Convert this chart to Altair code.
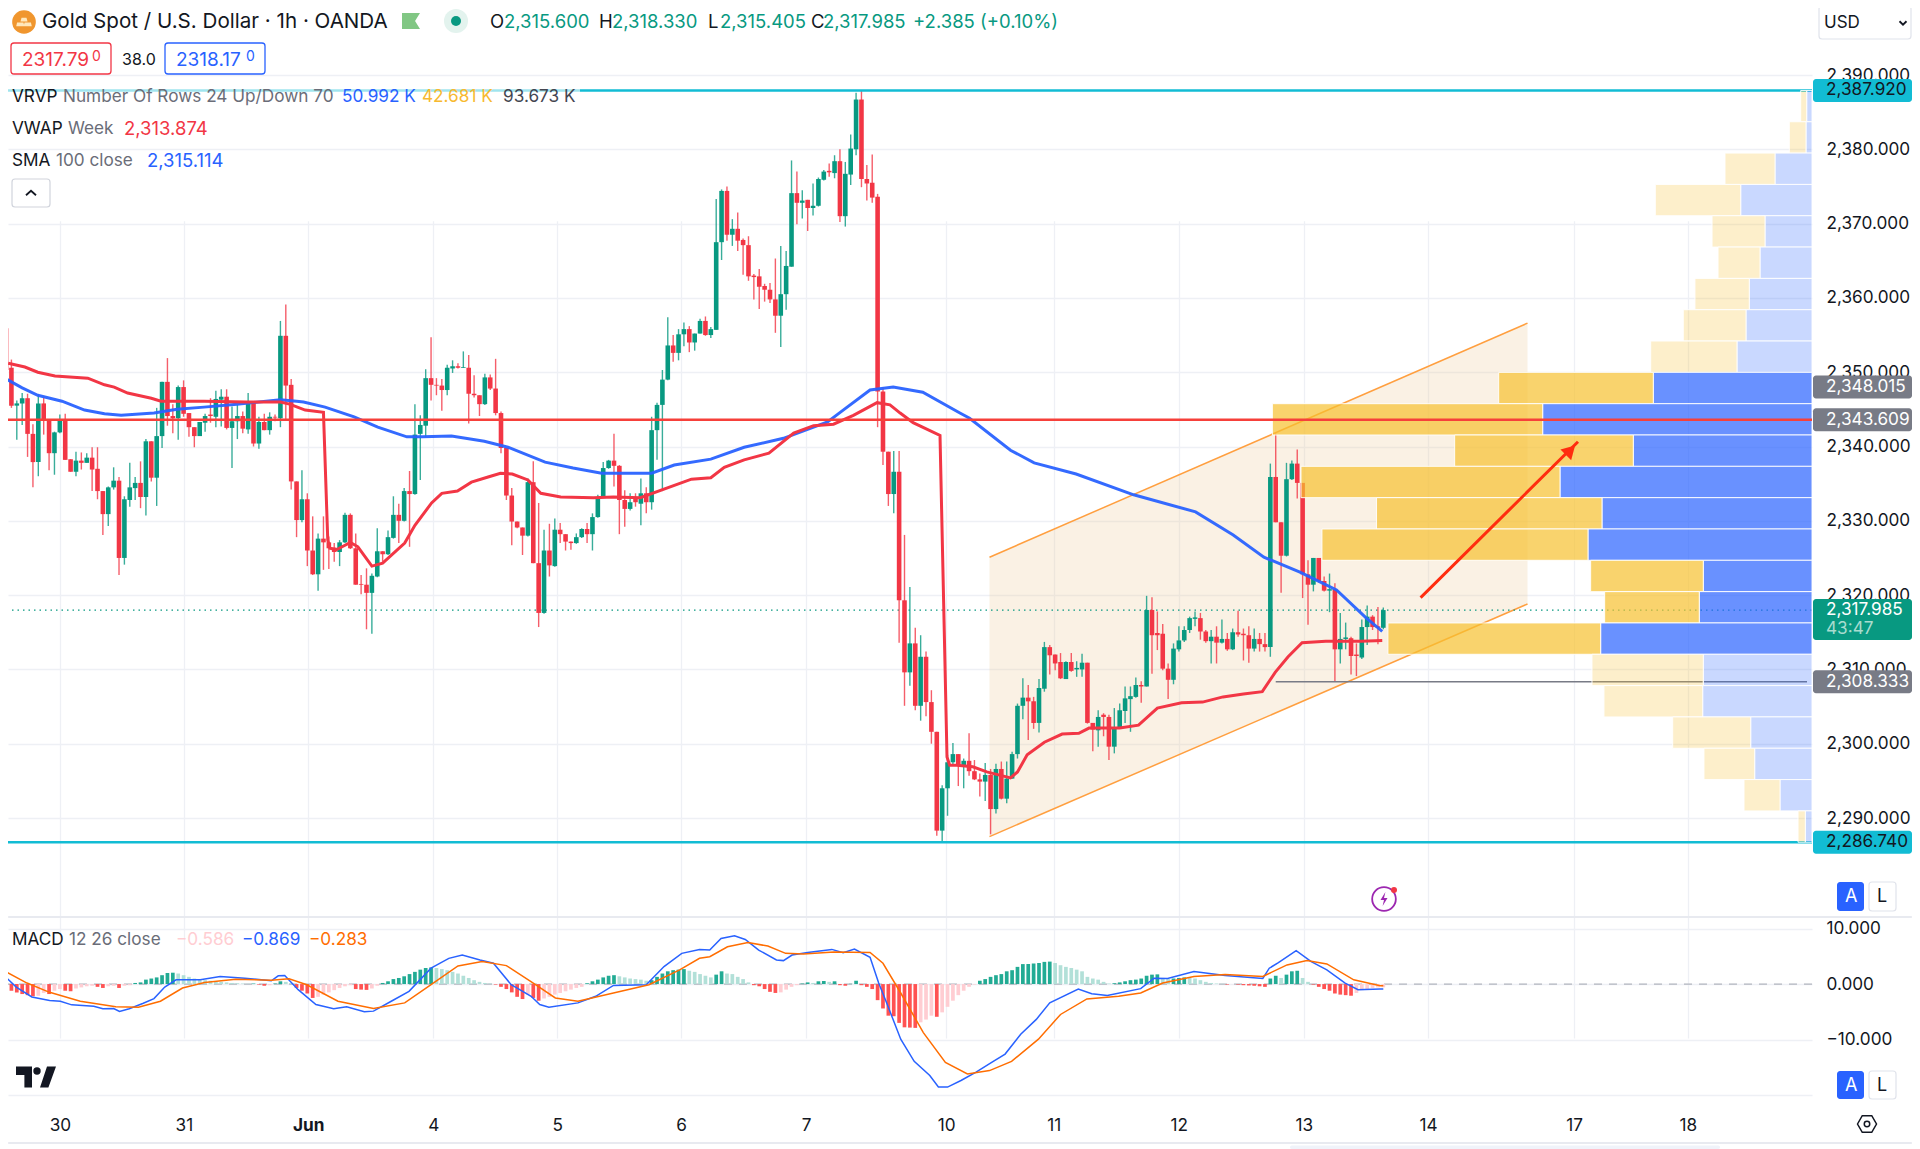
import altair as alt
import pandas as pd

# ---------- candles (1h bars) ----------
OPEN = [2355.9,2350.6,2345.5,2345.8,2346.5,2341.7,2337.9,2345.8,2343.6,2339.1,
2341.9,2343.6,2338.3,2336.6,2338.1,2337.8,2338.5,2337.0,2334.0,2330.9,
2334.5,2335.4,2325.0,2332.8,2334.4,2335.1,2333.2,2340.7,2335.8,2341.4,
2348.7,2344.1,2343.8,2348.0,2344.5,2342.6,2341.4,2343.2,2344.3,2344.0,
2346.3,2346.7,2342.5,2343.4,2344.1,2342.3,2345.9,2340.4,2343.3,2342.2,
2344.0,2343.8,2354.9,2348.3,2335.3,2330.1,2332.9,2326.0,2322.8,2327.6,
2327.1,2326.4,2325.8,2327.1,2330.8,2326.3,2321.5,2321.4,2320.3,2322.5,
2325.9,2325.5,2327.7,2330.8,2330.0,2334.0,2333.6,2341.7,2342.8,2349.2,
2348.3,2348.2,2347.6,2350.5,2350.8,2350.6,2350.6,2347.1,2346.9,2345.7,
2349.3,2347.8,2344.5,2339.8,2333.4,2329.9,2329.1,2328.0,2335.2,2324.3,
2317.6,2326.0,2323.9,2328.8,2328.2,2327.2,2327.0,2327.8,2328.9,2328.2,
2330.5,2333.2,2337.1,2338.1,2337.4,2332.8,2331.6,2333.0,2332.3,2333.7,
2332.5,2342.2,2345.6,2349.0,2353.6,2352.6,2355.1,2355.8,2354.0,2355.2,
2356.9,2355.0,2355.7,2367.5,2374.4,2368.5,2369.3,2367.8,2367.1,2363.0,
2362.9,2361.6,2361.1,2359.8,2357.6,2360.5,2364.2,2374.1,2372.8,2373.2,
2372.1,2372.4,2375.9,2377.1,2376.8,2378.4,2371.0,2376.6,2380.0,2386.7,
2376.0,2375.5,2373.6,2347.4,2339.3,2333.6,2336.6,2319.3,2309.6,2313.5,
2305.1,2311.7,2305.6,2301.6,2288.3,2294.0,2297.5,2298.6,2297.1,2297.7,
2296.3,2295.2,2294.9,2295.8,2291.2,2296.6,2292.6,2295.3,2298.6,2305.1,
2306.2,2305.7,2302.8,2307.4,2313.0,2312.0,2311.0,2308.7,2311.0,2310.0,
2310.0,2310.9,2302.8,2301.8,2303.9,2303.6,2299.6,2302.1,2304.4,2306.0,
2306.3,2307.9,2307.7,2318.0,2314.9,2314.8,2310.1,2308.6,2312.7,2313.9,
2315.3,2316.8,2316.9,2315.1,2313.8,2314.4,2313.6,2314.1,2312.7,2315.0,
2314.8,2314.6,2312.8,2314.1,2313.4,2313.0,2335.9,2329.8,2325.3,2335.6,
2337.7,2335.1,2322.8,2321.4,2325.0,2321.9,2320.6,2320.8,2312.7,2314.1,
2314.2,2312.0,2311.6,2315.7,2317.1,2315.8,2315.6]
CLOSE = [2350.3,2345.5,2345.8,2346.5,2341.7,2337.9,2345.8,2343.6,2339.1,2341.9,
2343.5,2338.2,2336.6,2338.1,2337.8,2338.5,2336.9,2334.0,2330.9,2334.5,
2335.4,2325.0,2332.9,2334.5,2335.1,2333.2,2340.7,2335.8,2341.4,2348.7,
2344.1,2343.8,2348.0,2344.4,2342.6,2341.4,2343.3,2344.1,2344.1,2346.4,
2346.7,2342.5,2343.4,2344.1,2342.4,2345.8,2340.4,2343.3,2342.2,2344.0,
2343.9,2354.9,2348.2,2335.3,2330.1,2332.9,2326.0,2322.8,2327.6,2327.1,
2326.3,2325.8,2327.1,2330.8,2326.3,2321.4,2321.4,2320.3,2322.6,2325.9,
2325.5,2327.8,2330.8,2330.0,2334.0,2333.6,2341.6,2342.9,2349.2,2348.3,
2348.2,2347.6,2350.6,2350.8,2350.6,2350.7,2347.1,2346.9,2345.7,2349.3,
2347.8,2344.5,2339.8,2333.4,2329.9,2329.1,2328.0,2335.2,2324.3,2317.6,
2326.0,2324.0,2328.8,2328.2,2327.2,2327.0,2327.8,2328.9,2328.2,2330.5,
2333.2,2337.1,2338.1,2337.4,2332.8,2331.6,2332.5,2332.5,2333.7,2332.5,
2342.2,2345.6,2349.0,2353.6,2352.6,2355.1,2355.8,2354.0,2355.2,2356.9,
2355.0,2355.8,2367.5,2374.4,2368.5,2369.3,2367.7,2367.1,2362.9,2362.8,
2361.5,2361.1,2359.8,2357.6,2360.5,2364.3,2374.1,2372.8,2373.1,2372.1,
2372.4,2376.0,2377.0,2376.9,2378.4,2371.0,2376.7,2380.1,2386.7,2376.0,
2375.4,2373.5,2347.4,2339.3,2333.6,2336.6,2319.3,2309.6,2313.5,2305.1,
2311.7,2305.6,2301.6,2288.3,2294.0,2297.5,2298.6,2297.1,2297.7,2296.3,
2295.2,2294.9,2295.8,2291.2,2296.6,2292.6,2295.3,2298.6,2305.1,2306.2,
2305.7,2302.8,2307.5,2313.0,2311.9,2310.8,2308.8,2311.0,2309.8,2310.2,
2310.9,2302.8,2301.9,2303.6,2303.6,2299.6,2302.2,2304.5,2306.1,2306.4,
2307.9,2307.7,2318.0,2314.6,2314.6,2310.1,2308.6,2312.8,2313.9,2315.3,
2316.9,2317.0,2315.1,2313.8,2314.4,2313.6,2314.1,2312.7,2315.0,2314.7,
2314.6,2312.8,2314.1,2313.4,2313.0,2335.9,2329.8,2325.3,2335.6,2337.7,
2335.1,2322.8,2321.4,2325.0,2321.9,2320.6,2320.8,2312.7,2314.1,2314.3,
2311.8,2311.8,2315.7,2317.1,2315.7,2315.6,2317.985]
HIGH = [2356.2,2351.7,2346.2,2347.2,2347.1,2343.0,2347.0,2346.7,2343.6,2342.0,
2344.3,2344.4,2338.3,2339.3,2339.2,2339.1,2339.9,2339.9,2334.0,2334.6,
2337.2,2335.9,2333.3,2337.8,2335.9,2338.0,2341.0,2340.7,2345.2,2348.7,
2351.9,2345.7,2348.2,2348.9,2344.5,2342.6,2343.3,2344.4,2346.5,2347.5,
2347.7,2347.7,2345.4,2345.6,2344.7,2347.2,2346.1,2344.0,2344.4,2344.6,
2344.3,2356.9,2359.1,2349.1,2335.3,2336.8,2333.7,2330.6,2328.3,2330.6,
2327.9,2327.0,2327.4,2331.1,2331.0,2328.3,2322.7,2323.6,2322.9,2329.0,
2325.9,2328.7,2333.3,2332.3,2334.4,2336.7,2345.7,2344.2,2350.4,2354.7,
2349.2,2349.1,2351.0,2351.6,2351.2,2352.8,2352.3,2349.6,2346.9,2349.8,
2349.7,2351.8,2344.7,2339.8,2334.4,2329.9,2329.1,2335.7,2338.0,2332.4,
2328.8,2329.6,2330.3,2329.7,2328.2,2327.2,2328.3,2329.0,2329.7,2331.0,
2333.5,2337.9,2338.2,2341.7,2337.5,2334.1,2333.7,2333.7,2335.7,2334.5,
2344.0,2345.9,2350.3,2357.4,2355.0,2355.8,2356.7,2356.2,2355.2,2357.2,
2357.5,2356.1,2373.3,2374.6,2375.0,2370.6,2371.5,2368.0,2368.3,2363.2,
2363.9,2361.9,2362.0,2365.3,2367.0,2366.3,2378.5,2377.0,2374.5,2373.2,
2375.4,2376.2,2377.2,2378.1,2379.2,2380.0,2378.3,2382.0,2387.6,2387.9,
2377.9,2379.3,2374.0,2348.0,2339.3,2339.4,2339.4,2328.1,2321.1,2315.6,
2314.6,2312.4,2307.2,2301.6,2294.4,2298.5,2300.1,2298.6,2298.0,2301.4,
2297.8,2296.0,2297.4,2296.6,2297.3,2297.6,2297.6,2298.9,2305.4,2308.8,
2307.9,2306.3,2308.7,2313.7,2313.3,2312.0,2312.2,2311.1,2312.2,2311.1,
2312.1,2310.9,2302.8,2304.5,2304.1,2303.9,2304.8,2305.4,2307.7,2307.7,
2308.9,2308.4,2319.9,2319.7,2317.8,2316.1,2310.8,2313.5,2315.8,2315.8,
2317.1,2317.8,2317.6,2315.3,2315.3,2315.8,2316.7,2314.9,2315.5,2317.9,
2315.5,2315.8,2315.5,2314.9,2314.9,2337.7,2341.7,2329.8,2337.8,2338.1,
2339.6,2335.1,2324.7,2325.0,2325.0,2322.5,2322.9,2321.6,2317.6,2316.3,
2314.4,2313.5,2316.7,2318.6,2317.3,2318.4,2318.33]
LOW = [2350.1,2345.2,2340.9,2342.9,2338.6,2334.5,2336.0,2341.6,2336.8,2336.2,
2341.8,2338.2,2336.6,2336.0,2336.9,2337.8,2334.0,2332.9,2328.1,2329.3,
2334.2,2322.7,2324.1,2331.9,2332.8,2331.7,2330.7,2335.3,2332.0,2339.8,
2342.8,2341.8,2340.9,2344.0,2341.3,2339.9,2341.4,2342.0,2343.2,2342.6,
2342.7,2342.3,2337.1,2341.0,2341.8,2341.7,2340.0,2339.7,2342.2,2341.6,
2343.4,2342.6,2343.6,2334.2,2327.8,2329.8,2323.9,2322.7,2320.6,2323.4,
2323.5,2324.5,2323.9,2327.0,2326.2,2321.4,2320.1,2315.4,2314.8,2322.4,
2324.5,2325.4,2327.6,2327.0,2329.9,2326.5,2333.5,2335.5,2341.3,2346.2,
2346.9,2344.8,2346.9,2349.9,2350.5,2350.6,2343.1,2346.6,2344.1,2345.6,
2347.6,2344.2,2339.1,2332.8,2326.7,2329.0,2325.4,2327.9,2324.3,2315.7,
2317.5,2322.5,2323.8,2327.0,2326.0,2326.1,2326.9,2327.7,2327.0,2326.0,
2330.4,2333.2,2337.0,2334.6,2328.2,2329.2,2331.4,2331.9,2329.4,2331.0,
2331.5,2338.2,2334.0,2348.9,2351.4,2351.6,2353.5,2352.7,2352.9,2355.2,
2354.9,2354.6,2355.7,2365.1,2367.7,2367.0,2366.3,2363.1,2362.3,2359.8,
2358.5,2359.5,2359.3,2355.3,2353.4,2358.4,2364.2,2369.9,2370.7,2369.0,
2371.1,2372.3,2375.8,2376.3,2376.1,2370.2,2369.6,2375.2,2379.2,2374.9,
2373.1,2372.8,2342.6,2337.5,2332.0,2331.0,2313.6,2305.1,2307.8,2304.5,
2303.1,2303.7,2300.0,2287.6,2286.8,2290.3,2297.2,2294.3,2294.0,2295.7,
2295.1,2292.9,2292.3,2287.8,2290.6,2292.5,2292.0,2295.3,2298.0,2303.3,
2300.5,2302.0,2301.5,2307.0,2309.3,2309.9,2308.7,2308.7,2309.7,2309.0,
2309.0,2302.7,2299.0,2299.6,2301.0,2297.8,2298.7,2302.1,2302.8,2301.6,
2306.2,2305.5,2307.7,2309.4,2312.6,2309.9,2306.0,2308.0,2312.4,2313.7,
2314.9,2315.8,2314.0,2313.6,2310.8,2310.8,2313.5,2312.5,2312.6,2314.4,
2311.2,2310.9,2312.4,2312.4,2312.4,2311.7,2329.8,2320.3,2325.2,2335.5,
2333.0,2319.6,2316.0,2320.5,2321.7,2320.5,2317.7,2308.33,2310.8,2312.7,
2309.3,2309.1,2311.4,2313.3,2315.3,2313.4,2315.405]

# ---------- overlays ----------
VWAP_BAR = [0.4,3.5,5.9,9.1,15.2,18.3,20.1,22.6,27,28.8,36.8,44.7,51,52.7,55.6,59,59.8,60.2,61.4,64,
65.4,68,70,74.1,76,79.1,81,83.9,86.5,89.6,91.9,94.1,97,99.4,103.1,109.2,112.9,117.9,127.4,131,
133.5,137.2,141.8,146.4,150.1,153.8,157.5,161.9,164.3,166.2,168.6,173.6,174.9,175.4,176.7,179.7,182.3,186.7,188,189.8,
193,196.3,199.4,201.3,207,210.5,214,218.5,222.4,226.2,230,233.5,235.9,238.3,240.9,245.3,251.8,255.8]
VWAP_VAL = [2351.2,2350.7,2350.0,2349.5,2349.2,2348.3,2348.0,2347.2,2346.5,2346.1,2346.1,2346.0,2346.0,2345.7,2344.9,2344.6,2327.4,2326.3,2326.1,2327.1,
2326.5,2323.9,2324.3,2327.0,2329.4,2332.4,2333.7,2334.0,2335.2,2335.9,2336.4,2336.3,2335.5,2333.7,2333.2,2333.1,2333.2,2333.1,2335.6,2335.8,
2337.2,2338.2,2339.1,2341.8,2342.8,2343.0,2344.2,2345.9,2345.6,2344.5,2343.2,2341.5,2298.2,2297.1,2297.1,2296.9,2296.2,2295.4,2296.2,2298.5,
2300.2,2301.3,2301.4,2302.1,2302.1,2302.5,2304.8,2305.5,2305.6,2306.3,2306.7,2307.0,2309.6,2311.7,2313.6,2313.8,2313.8,2313.874]
SMA_BAR = [0,3,5.9,10.4,14.6,18.3,21.4,27.5,31.8,36.8,42.9,51,54,55.3,59.3,64.7,69.1,74.5,77.4,82.8,88.9,93.3,100.2,105.4,110.7,120,
124.2,131,137.2,144.5,152.7,155.6,160.6,164.9,170.4,177.3,179.1,186.7,191.1,198.9,209.6,221.1,228.1,233.8,240.5,244.7,247.3,252.7,255.8]
SMA_VAL = [2349.1,2347.9,2346.9,2346.1,2344.9,2344.4,2344.2,2344.5,2345.0,2345.3,2345.7,2346.3,2346.1,2346.0,2345.3,2344.0,2342.6,2341.3,2341.3,2341.4,2340.7,2339.9,2337.9,2337.1,2336.4,2336.4,
2337.5,2338.3,2339.9,2341.1,2343.3,2344.9,2347.6,2348.0,2347.3,2344.5,2343.8,2339.5,2337.8,2336.3,2333.5,2331.2,2328.1,2325.1,2323.1,2321.6,2320.7,2317.0,2315.114]

CHANNEL_BAR = [182.8, 282.8]
CHANNEL_UPPER = [2325.1, 2356.6]
CHANNEL_LOWER = [2287.5, 2318.8]
ARROW_BAR = [262.6, 291.3]
ARROW_VAL = [2319.8, 2340.5]
HIGH_LEVEL, LOW_LEVEL, POC, VA_HIGH, LAST_LOW, LAST = 2387.92, 2286.74, 2343.609, 2348.015, 2308.333, 2317.985

# ---------- visible-range volume profile (thousands, rows top to bottom) ----------
VOL_UP = [.107,.121,.747,1.44,.949,1.05,1.267,1.333,1.515,3.206,5.44,3.61,5.09,4.242,4.525,2.196,2.277,4.269,2.196,2.208,1.238,1.158,.646,.135]
VOL_DOWN = [.121,.337,1.01,1.725,1.07,.848,1.097,1.267,1.743,3.123,5.46,3.608,5.232,4.554,5.374,2.275,1.911,4.297,2.248,1.994,1.576,1.024,.727,.147]
VALUE_AREA = range(9, 18)

# ---------- MACD ----------
MACD_HIST = [-0.8,-1.2,-1.5,-1.8,-2.0,-2.2,-2.1,-1.6,-1.8,-1.2,
-0.9,-1.2,-1.3,-0.8,-0.6,-0.4,-0.3,-0.5,-0.7,-0.4,
-0.3,-0.7,-0.3,-0.2,0.2,0.3,0.8,1.0,1.2,1.6,
2.0,2.05,1.9,1.6,1.3,1.0,.9,.7,.6,.5,
.4,.3,.2,.15,.1,.05,.1,-.1,-.3,-.2,
.1,.5,.4,.2,-.7,-1.2,-1.7,-2.5,-2.3,-1.9,
-1.5,-1.1,-.7,-.4,-.2,-.9,-1.0,-1.05,-.8,-.3,
.2,.5,.9,1.1,1.4,1.8,2.2,2.6,2.9,3.0,
2.9,2.7,2.5,2.2,1.9,1.5,1.1,.7,.4,.2,
.1,-.1,-.5,-.9,-1.5,-2.3,-2.7,-1.9,-2.5,-3.0,
-2.6,-2.3,-1.9,-1.6,-1.3,-1.0,-.7,-.5,.15,.5,
.8,1.2,1.5,1.6,1.4,1.2,1.0,.9,.8,.6,
.7,1.3,1.9,2.3,2.5,2.6,2.7,2.4,2.2,1.8,
1.5,1.2,1.7,2.3,1.9,1.8,1.3,.9,.3,-.2,
-.4,-.9,-1.4,-1.6,-1.5,-1.0,-.5,-.2,.1,.3,
.2,.5,.55,.4,.5,-.2,-.3,.05,.6,-.2,
-.5,-.9,-2.9,-4.4,-5.7,-5.8,-7.0,-7.8,-7.85,-7.9,
-6.9,-6.4,-5.7,-5.9,-5.1,-4.1,-3.0,-2.0,-1.2,-.5,
-.1,.6,.9,1.3,1.6,1.8,2.3,2.5,3.1,3.6,
3.62,3.7,3.8,4.0,4.05,3.8,3.4,3.1,2.9,2.6,
2.3,1.3,1.0,.8,.4,.1,.15,.3,.5,.7,
.8,1.0,1.5,1.7,1.75,1.1,.9,1.0,1.1,1.2,
1.1,1.0,.7,.4,.2,.1,.05,-.1,-.02,-.1,
-.2,-.25,-.3,-.4,-.5,1.0,1.5,1.1,1.7,2.3,
2.4,1.1,.4,-.1,-.5,-.9,-1.2,-1.7,-1.9,-2.0,
-2.1,-1.6,-1.1,-.9,-.7,-.6,-.586]
MACD_BAR = [0,1.9,4.8,8.1,10.1,12.2,16.3,18,20,21.1,22.9,25.4,27.5,29.5,31.6,36.1,39.8,44.4,49.3,50.6,51.8,54.3,57.6,60.9,63.3,66.6,68.3,71.6,74.9,79,82.3,84.8,88.1,90.6,93.9,97.6,99.2,100.9,106.3,109.6,112.9,119,122.3,125.6,128.9,
130.8,132.9,135.4,137.4,139.9,143.2,144.5,146.1,149,153.5,155.6,157.7,160.6,162.2,163.8,166.3,168.8,171.7,173.3,175,177.5,180.3,183.2,185.7,188.6,191.5,194,199.3,201.8,204.7,210.9,213.4,215.9,220.8,226.6,233.6,234.8,236.5,239.8,242.6,245.5,248.9,251.3,255.4,256]
MACD_VAL = [1.19,-.54,-2.32,-2.98,-3.10,-3.75,-3.99,-4.46,-4.40,-4.94,-4.46,-3.51,-2.62,-.54,.77,.77,1.37,1.07,.6,1.49,1.55,-1.01,-3.69,-4.46,-4.11,-5,-4.88,-3.1,-1.31,2.86,4.64,5.24,4.35,3.75,-.12,-2.2,-3.69,-4.17,-3.39,-2.2,-.24,-.12,3.15,5.54,6.25,
6.13,8.21,8.69,8.04,6.13,4.35,4.23,5.24,5.71,6.25,5.65,6.31,4.82,.18,-3.69,-9.94,-13.93,-16.49,-18.57,-18.57,-17.38,-15.89,-14.11,-12.62,-9.05,-6.37,-3.39,-.89,-1.73,-2.08,-.83,1.07,1.01,2.26,1.55,1.01,2.86,3.87,6.01,4.05,2.56,.18,-1.01,-.89,-.869]
SIGNAL_BAR = [0,3.9,8.1,13.8,20.4,24.6,28.7,32.8,36.9,42.7,49.3,52.6,55.9,61.7,68.3,74.1,79,84,88.5,93,98,102.1,106.3,112.9,119.5,125.2,128.9,
130.8,134.1,137.9,141.6,144.9,148.2,153.9,160.6,163,166.3,170.5,174.6,178.7,182.8,186.9,191.9,196,200.9,206.8,210.9,215,220.8,226.6,233.6,238.1,241.8,245.5,250.5,255.4,256]
SIGNAL_VAL = [2.2,.18,-1.49,-3.1,-4.11,-4.17,-3.1,-.71,.3,.89,.71,.95,-.12,-3.1,-4.4,-3.39,-.12,3.27,4.05,3.33,.18,-2.5,-3.1,-1.61,-.12,2.56,4.64,
4.94,6.73,7.5,6.85,5.54,5.42,5.77,5.71,3.75,-1.61,-8.75,-14.11,-16.19,-15.6,-13.93,-9.94,-5.48,-2.68,-2.2,-1.61,.18,1.37,1.73,1.37,3.45,4.23,3.63,.77,-.3,-.283]

# ---------- axes ----------
PRICE_TICKS = [2290,2300,2310,2320,2330,2340,2350,2360,2370,2380,2390]
MACD_TICKS = [-20,-10,0,10]
DATE_BARS = [10.9,33.8,56.8,79.9,102.8,125.7,148.8,174.7,194.6,217.7,240.8,263.8,290.8,311.8]
DATE_LABELS = ['30','31','Jun','4','5','6','7','10','11','12','13','14','17','18']

UP, DOWN = '#089981', '#f23645'
BLUE, GOLD = '#2962ff', '#f7c02f'
INK, MUTED = '#131722', '#6a6d78'
GRID = '#eef0f5'
FONT = 'Inter'
AX = 17.2

W, H = 1804, 1097
XS = alt.Scale(domain=[1.294, 334.75], nice=False, zero=False)
YS = alt.Scale(domain=[2280, 2390], range=[884.3, 67], nice=False, zero=False)
MS = alt.Scale(domain=[-20, 10], range=[1087, 920.6], nice=False, zero=False)
VS = alt.Scale(domain=[0, 36.44], range=[W, 0], nice=False, zero=False)

def X(f='bar'):
    return alt.X(f'{f}:Q', scale=XS, axis=None)
def Y(f='v'):
    return alt.Y(f'{f}:Q', scale=YS, axis=None)

# candles
cd = pd.DataFrame({'bar': range(len(OPEN)), 'o': OPEN, 'h': HIGH, 'l': LOW, 'c': CLOSE})
cd['col'] = [UP if c >= o else DOWN for o, c in zip(OPEN, CLOSE)]
date_expr = ''.join(f"datum.value=={b}?'{t}':" for b, t in zip(DATE_BARS, DATE_LABELS)) + "''"
x_axis = alt.Axis(values=DATE_BARS, labelExpr=date_expr, title=None, grid=True, gridColor=GRID, gridWidth=1.3,
                  domain=False, ticks=False, labelFontSize=AX, labelFont=FONT, labelColor=INK, labelPadding=11,
                  labelOverlap=False, labelFlush=False,
                  labelFontWeight={'condition': {'test': 'datum.value==56.8', 'value': 700}, 'value': 400})
y_axis = alt.Axis(values=PRICE_TICKS, format=',.3f', orient='right', title=None, grid=True, gridColor=GRID, gridWidth=1.3,
                  domain=False, ticks=False, labelFontSize=AX, labelFont=FONT, labelColor=INK, labelPadding=14,
                  labelOverlap=False, labelFlush=False)
m_axis = alt.Axis(values=MACD_TICKS, orient='right', title=None, grid=True, gridColor=GRID, gridWidth=1.3,
                  domain=False, ticks=False, labelFontSize=AX, labelFont=FONT, labelColor=INK, labelPadding=14,
                  labelOverlap=False, labelFlush=False,
                  labelExpr="datum.value==-20?'':format(datum.value,'.3f')")

# dedicated carriers for the axes, at the top level of the layering
price_axes = alt.Chart(pd.DataFrame({'bar': DATE_BARS, 'v': [2300.0] * len(DATE_BARS)})).mark_point(opacity=0).encode(
    x=alt.X('bar:Q', scale=XS, axis=x_axis), y=alt.Y('v:Q', scale=YS, axis=y_axis))
macd_axes = alt.Chart(pd.DataFrame({'bar': DATE_BARS, 'v': [0.0] * len(DATE_BARS)})).mark_point(opacity=0).encode(
    x=X(), y=alt.Y('v:Q', scale=MS, axis=m_axis))

wicks = alt.Chart(cd).mark_rule(strokeWidth=1.4, opacity=.8, clip=True).encode(
    x=X(), y=Y('l'), y2='h:Q', color=alt.Color('col:N', scale=None))
bodies = alt.Chart(cd).mark_bar(width=4.6, clip=True).encode(
    x=X(), y=Y('o'), y2='c:Q', color=alt.Color('col:N', scale=None))

ch = pd.DataFrame({'bar': CHANNEL_BAR, 'u': CHANNEL_UPPER, 'l': CHANNEL_LOWER})
chan_fill = alt.Chart(ch).mark_area(color='rgb(235,199,147)', opacity=.25).encode(x=X(), y=Y('u'), y2='l:Q')
chan_up = alt.Chart(ch).mark_line(color='#ff9f3f', strokeWidth=1.5).encode(x=X(), y=Y('u'))
chan_lo = alt.Chart(ch).mark_line(color='#ff9f3f', strokeWidth=1.5).encode(x=X(), y=Y('l'))

sma = alt.Chart(pd.DataFrame({'bar': SMA_BAR, 'v': SMA_VAL})).mark_line(color=BLUE, strokeWidth=3, opacity=.95, clip=True).encode(x=X(), y=Y())
vwap = alt.Chart(pd.DataFrame({'bar': VWAP_BAR, 'v': VWAP_VAL})).mark_line(color=DOWN, strokeWidth=3, clip=True).encode(x=X(), y=Y())

def hline(val, color, width, **kw):
    return alt.Chart(pd.DataFrame({'v': [val]})).mark_rule(color=color, strokeWidth=width, **kw).encode(y=Y())

dot = hline(LAST, UP, 1.3, strokeDash=[1.5, 4])
hi_l = hline(HIGH_LEVEL, '#12bcd4', 2.5)
lo_l = hline(LOW_LEVEL, '#12bcd4', 2.5)
low_seg = alt.Chart(pd.DataFrame({'bar': [236.0], 'b2': [334.75], 'v': [LAST_LOW]})).mark_rule(color='#787b86', strokeWidth=1.5).encode(
    x=X(), x2='b2:Q', y=Y())

price_layer = alt.layer(chan_fill, chan_up, chan_lo, dot, wicks, bodies, sma, vwap, hi_l, lo_l, low_seg)

# profile
STEP = (HIGH_LEVEL - LOW_LEVEL) / 24
rows = []
for k, (u, d) in enumerate(zip(VOL_UP, VOL_DOWN)):
    a = .7 if k in VALUE_AREA else .25
    top, bot = HIGH_LEVEL - k * STEP, HIGH_LEVEL - (k + 1) * STEP
    rows.append({'x0': 0, 'x1': u, 't': top, 'b': bot, 'col': BLUE, 'a': a})
    rows.append({'x0': u, 'x1': u + d, 't': top, 'b': bot, 'col': GOLD, 'a': a})
profile = alt.Chart(pd.DataFrame(rows)).mark_rect(stroke='white', strokeWidth=1, strokeOpacity=.9).encode(
    x=alt.X('x0:Q', scale=VS, axis=None), x2='x1:Q', y=alt.Y('t:Q', scale=YS, axis=None), y2='b:Q',
    fill=alt.Fill('col:N', scale=None), fillOpacity=alt.FillOpacity('a:Q', scale=None))

# POC + arrow over the profile
poc = hline(POC, '#f6403a', 2.5)
arrow = alt.Chart(pd.DataFrame({'bar': ARROW_BAR, 'v': ARROW_VAL})).mark_line(color='#ff2d0f', strokeWidth=3, strokeCap='square').encode(x=X(), y=Y())
head = alt.Chart(pd.DataFrame({'bar': [ARROW_BAR[1] - 1.2], 'v': [ARROW_VAL[1] - 1.0]})).mark_point(
    shape='triangle-up', filled=True, color='#ff2d0f', size=230, angle=45, opacity=1).encode(x=X(), y=Y())
over_layer = alt.layer(poc, arrow, head)

# MACD
md = pd.DataFrame({'bar': range(len(MACD_HIST)), 'h': MACD_HIST, 'z': 0.0})
cols, prev = [], 0.0
for h in MACD_HIST:
    if h >= 0:
        cols.append('#22ab94' if h >= prev else '#b2e0d8')
    else:
        cols.append('#ff5252' if h < prev else '#ffcdd2')
    prev = h
md['col'] = cols
hist = alt.Chart(md).mark_bar(width=3.7, clip=True).encode(
    x=X(), y=alt.Y('h:Q', scale=MS, axis=None), y2='z:Q', color=alt.Color('col:N', scale=None))
zero = alt.Chart(pd.DataFrame({'v': [0.0]})).mark_rule(color='#b2b5be', strokeWidth=1.3, strokeDash=[8, 7]).encode(
    y=alt.Y('v:Q', scale=MS, axis=None))
m_line = alt.Chart(pd.DataFrame({'bar': MACD_BAR, 'v': MACD_VAL})).mark_line(color=BLUE, strokeWidth=1.5, clip=True).encode(
    x=X(), y=alt.Y('v:Q', scale=MS, axis=None))
s_line = alt.Chart(pd.DataFrame({'bar': SIGNAL_BAR, 'v': SIGNAL_VAL})).mark_line(color='#ff6d00', strokeWidth=1.5, clip=True).encode(
    x=X(), y=alt.Y('v:Q', scale=MS, axis=None))
macd_layer = alt.layer(zero, hist, m_line, s_line)

# ---------- interface furniture, in page coordinates ----------
def py(p):
    return 75 + (2390 - p) * 7.43

RIGHT = 1912
rects = [
    (8, RIGHT, 916, 918, '#e8eaf0', '#e8eaf0', 0),
    (8, RIGHT, 1142, 1144, '#e8eaf0', '#e8eaf0', 0),
    (1290, 1720, 1145.5, 1149, '#f0f3fa', '#f0f3fa', 0),
    (8, 580, 84, 112, 'rgba(255,255,255,.6)', 'transparent', 0),
    (11, 111, 43, 74, 'white', DOWN, 1.3),
    (165, 265, 43, 74, 'white', BLUE, 1.3),
    (12, 50, 179, 207, 'white', '#d1d4dc', 1.2),
    (1819, 1911, 6, 39, 'white', '#e0e3eb', 1.2),
    (1813, RIGHT, py(HIGH_LEVEL) - 11.5, py(HIGH_LEVEL) + 11.5, '#12bcd4', '#12bcd4', 0),
    (1813, RIGHT, py(VA_HIGH) - 11.5, py(VA_HIGH) + 11.5, '#787b86', '#787b86', 0),
    (1813, RIGHT, py(POC) - 11.5, py(POC) + 11.5, '#787b86', '#787b86', 0),
    (1813, RIGHT, 599, 640, UP, UP, 0),
    (1813, RIGHT, py(LAST_LOW) - 11.5, py(LAST_LOW) + 11.5, '#787b86', '#787b86', 0),
    (1813, RIGHT, py(LOW_LEVEL) - 11.5, py(LOW_LEVEL) + 11.5, '#12bcd4', '#12bcd4', 0),
    (1837, 1864, 882, 911, BLUE, BLUE, 0),
    (1869, 1896, 882, 911, 'white', '#e0e3eb', 1.2),
    (1837, 1864, 1071, 1099, BLUE, BLUE, 0),
    (1869, 1896, 1071, 1099, 'white', '#e0e3eb', 1.2),
]
rd = pd.DataFrame(rects, columns=['x', 'x2', 'y', 'y2', 'f', 's', 'w'])
for c in ['x', 'x2', 'y', 'y2']:
    rd[c] -= 8
rect_layer = alt.Chart(rd).mark_rect(cornerRadius=3).encode(
    x=alt.X('x:Q', scale=None, axis=None), x2='x2:Q', y=alt.Y('y:Q', scale=None, axis=None), y2='y2:Q',
    fill=alt.Fill('f:N', scale=None), stroke=alt.Stroke('s:N', scale=None),
    strokeWidth=alt.StrokeWidth('w:Q', scale=None))

NUM, TXT = 18.5, 17.2
labels = [
    (42, 22, 'Gold Spot / U.S. Dollar · 1h · OANDA', INK, 20.6),
    (490, 22, 'O', INK, NUM), (504, 22, '2,315.600', UP, NUM),
    (599, 22, 'H', INK, NUM), (612, 22, '2,318.330', UP, NUM),
    (708, 22, 'L', INK, NUM), (720, 22, '2,315.405', UP, NUM),
    (811, 22, 'C', INK, NUM), (823, 22, '2,317.985', UP, NUM),
    (913, 22, '+2.385 (+0.10%)', UP, NUM),
    (22, 59.5, '2317.79', DOWN, 19), (92, 57, '0', DOWN, 14),
    (122, 59.5, '38.0', INK, 16),
    (176, 59.5, '2318.17', BLUE, 19), (246, 57, '0', BLUE, 14),
    (12, 97, 'VRVP', INK, TXT), (63, 97, 'Number Of Rows 24 Up/Down 70', MUTED, TXT),
    (342, 97, '50.992 K', BLUE, TXT), (422, 97, '42.681 K', '#f7b92f', TXT), (503, 97, '93.673 K', '#434651', TXT),
    (12, 129, 'VWAP', INK, TXT), (68, 129, 'Week', MUTED, TXT), (124, 129, '2,313.874', DOWN, NUM),
    (12, 161, 'SMA', INK, TXT), (56, 161, '100 close', MUTED, TXT), (147, 161, '2,315.114', BLUE, NUM),
    (12, 940, 'MACD', INK, TXT), (69, 940, '12 26 close', MUTED, TXT),
    (176, 940, '−0.586', '#ffcdd2', TXT), (242, 940, '−0.869', BLUE, TXT), (309, 940, '−0.283', '#ff6d00', TXT),
    (1824, 23, 'USD', INK, 17),
    (1826, py(HIGH_LEVEL), '2,387.920', INK, AX),
    (1826, py(VA_HIGH), '2,348.015', 'white', AX),
    (1826, py(POC), '2,343.609', 'white', AX),
    (1826, 609.5, '2,317.985', 'white', AX),
    (1826, 628.5, '43:47', '#a8dccf', AX),
    (1826, py(LAST_LOW), '2,308.333', 'white', AX),
    (1826, py(LOW_LEVEL), '2,286.740', INK, AX),
    (1845, 897, 'A', 'white', 18), (1877, 897, 'L', INK, 18),
    (1845, 1085.5, 'A', 'white', 18), (1877, 1085.5, 'L', INK, 18),
]
ld = pd.DataFrame(labels, columns=['x', 'y', 't', 'c', 's'])
ld['x'] -= 8
ld['y'] -= 8
label_layer = alt.Chart(ld).mark_text(align='left', baseline='middle', font=FONT).encode(
    x=alt.X('x:Q', scale=None, axis=None), y=alt.Y('y:Q', scale=None, axis=None), text='t:N',
    color=alt.Color('c:N', scale=None), size=alt.Size('s:Q', scale=None))

one = alt.Data(values=[{'k': 1}])
def icon(x, y, shape, size, color, filled=True, width=1.5, opacity=1):
    return alt.Chart(one).mark_point(shape=shape, size=size, filled=filled, color=color, opacity=opacity, strokeWidth=width).encode(
        x=alt.value(x - 8), y=alt.value(y - 8))

CIRCLE = 'circle'
icons = alt.layer(
    icon(24, 22, CIRCLE, 560, '#f0962e'),
    icon(24, 22, 'M-0.35,-0.6 H0.35 L0.5,-0.08 H-0.5 Z M-0.98,0.08 H-0.08 L0.06,0.6 H-1.1 Z M0.08,0.08 H0.98 L1.1,0.6 H-0.06 Z', 200, '#ffe8bc'),
    icon(411, 21, 'M-1,-0.9 L1,-0.9 L0.45,0 L1,0.9 L-1,0.9 Z', 324, '#81c784'),
    icon(456, 21, CIRCLE, 580, '#e3f3ee'),
    icon(456, 21, CIRCLE, 100, UP),
    icon(31, 193, 'M-1,0.45 L0,-0.45 L1,0.45', 100, INK, filled=False, width=1.8),
    icon(1903, 23, 'M-1,-0.5 L0,0.5 L1,-0.5', 49, INK, filled=False, width=1.8),
    icon(1384, 899, CIRCLE, 560, '#9c27b0', filled=False, width=1.8),
    icon(1384, 899, 'M0.2,-1 L-0.5,0.15 L0,0.15 L-0.2,1 L0.5,-0.15 L0,-0.15 Z', 196, '#9c27b0'),
    icon(1394, 890, CIRCLE, 36, '#f23645'),
    icon(36, 1077, 'M-1,-0.52 H-0.2 V0.52 H-0.58 V-0.1 H-1 Z M0.2,0.52 L0.55,-0.52 H1 L0.62,0.52 Z', 1600, INK),
    icon(37, 1071, CIRCLE, 55, INK),
    icon(1867, 1124, 'M-1,0 L-0.5,-0.87 L0.5,-0.87 L1,0 L0.5,0.87 L-0.5,0.87 Z', 361, INK, filled=False, width=1.5),
    icon(1867, 1124, CIRCLE, 30, INK, filled=False, width=1.5),
)

chart = alt.layer(price_axes, macd_axes, price_layer, profile, over_layer, macd_layer, rect_layer, label_layer, icons).resolve_scale(
    x='independent', y='independent', color='independent', size='independent'
).properties(
    width=W, height=H,
    padding={'left': 0, 'top': 0, 'right': 100, 'bottom': 44},
    autosize=alt.AutoSizeParams(type='none'),
    background='white',
).configure_view(stroke=None)

chart.save("out.html", embed_options={"renderer": "svg", "actions": False})
